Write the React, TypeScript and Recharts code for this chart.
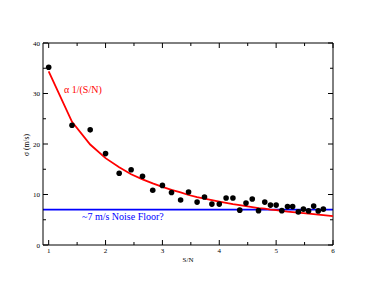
import {
  ComposedChart,
  Scatter,
  XAxis,
  YAxis,
  ReferenceLine,
} from "recharts";

// measured S/N and rms velocity scatter
const snr = [
  1.0, 1.41, 1.73, 2.0, 2.24, 2.45, 2.65, 2.83, 3.0, 3.16, 3.32, 3.46, 3.61, 3.74, 3.87, 4.0, 4.12,
  4.24, 4.36, 4.47, 4.58, 4.69, 4.8, 4.9, 5.0, 5.1, 5.2, 5.29, 5.39, 5.48, 5.57, 5.66, 5.74, 5.83,
];
const sigma = [
  35.2, 23.7, 22.8, 18.1, 14.2, 14.9, 13.6, 10.85, 11.8, 10.4, 8.9, 10.5, 8.5, 9.5, 8.1, 8.1, 9.3,
  9.3, 6.9, 8.3, 9.1, 6.8, 8.5, 7.9, 7.9, 6.8, 7.6, 7.6, 6.55, 7.1, 6.75, 7.7, 6.75, 7.1,
];

// red 1/(S/N) curve
const fitSnr = [...snr, 6.0];
const fitSigma = [
  34.4, 24.4, 19.9, 17.2, 15.4, 14.0, 13.0, 12.2, 11.5, 10.9, 10.4, 9.9, 9.5, 9.2, 8.9, 8.6, 8.35,
  8.1, 7.9, 7.7, 7.5, 7.3, 7.2, 7.0, 6.9, 6.75, 6.6, 6.5, 6.4, 6.3, 6.2, 6.1, 6.0, 5.9, 5.73,
];

const noiseFloor = 7;

const xTicks = [1, 1.5, 2, 2.5, 3, 3.5, 4, 4.5, 5, 5.5, 6];
const yTicks = [0, 5, 10, 15, 20, 25, 30, 35, 40];

const points = snr.map((x, i) => ({ x, y: sigma[i] }));
const fit = fitSnr.map((x, i) => ({ x, y: fitSigma[i] }));

const FONT = '"Liberation Serif", "Times New Roman", serif';

type TickProps = { x: number; y: number; payload: { value: number } };

function BottomTick({ x, y, payload }: TickProps) {
  const major = Number.isInteger(payload.value);
  return (
    <g>
      <line x1={x} y1={y} x2={x} y2={y - (major ? 5 : 3)} stroke="#000" />
      {major && (
        <text x={x} y={y + 8} textAnchor="middle" fontSize={7} fontFamily={FONT} fill="#000">
          {payload.value}
        </text>
      )}
    </g>
  );
}

function TopTick({ x, y, payload }: TickProps) {
  const major = Number.isInteger(payload.value);
  return <line x1={x} y1={y} x2={x} y2={y + (major ? 5 : 3)} stroke="#000" />;
}

function LeftTick({ x, y, payload }: TickProps) {
  const major = payload.value % 10 === 0;
  return (
    <g>
      <line x1={x} y1={y} x2={x + (major ? 5 : 3)} y2={y} stroke="#000" />
      {major && (
        <text x={x - 3} y={y + 2.5} textAnchor="end" fontSize={7} fontFamily={FONT} fill="#000">
          {payload.value}
        </text>
      )}
    </g>
  );
}

function RightTick({ x, y, payload }: TickProps) {
  const major = payload.value % 10 === 0;
  return <line x1={x} y1={y} x2={x - (major ? 5 : 3)} y2={y} stroke="#000" />;
}

export default function App() {
  return (
    <div style={{ position: "absolute", left: 0, top: 0, background: "#fff" }}>
      <ComposedChart width={374} height={289} margin={{ top: 33, right: 31, bottom: 14, left: 13 }}>
        <XAxis
          xAxisId="b"
          dataKey="x"
          type="number"
          domain={[0.9, 6]}
          allowDataOverflow
          ticks={xTicks}
          interval={0}
          height={30}
          tickSize={0}
          tickMargin={0}
          axisLine={{ stroke: "#000" }}
          tick={(p: TickProps) => <BottomTick {...p} />}
        />
        <XAxis
          xAxisId="t"
          orientation="top"
          dataKey="x"
          type="number"
          domain={[0.9, 6]}
          allowDataOverflow
          ticks={xTicks}
          interval={0}
          height={10}
          tickSize={0}
          tickMargin={0}
          axisLine={{ stroke: "#000" }}
          tick={(p: TickProps) => <TopTick {...p} />}
        />
        <YAxis
          yAxisId="l"
          dataKey="y"
          type="number"
          domain={[0, 40]}
          allowDataOverflow
          ticks={yTicks}
          interval={0}
          width={30}
          tickSize={0}
          tickMargin={0}
          axisLine={{ stroke: "#000" }}
          tick={(p: TickProps) => <LeftTick {...p} />}
        />
        <YAxis
          yAxisId="r"
          orientation="right"
          dataKey="y"
          type="number"
          domain={[0, 40]}
          allowDataOverflow
          ticks={yTicks}
          interval={0}
          width={10}
          tickSize={0}
          tickMargin={0}
          axisLine={{ stroke: "#000" }}
          tick={(p: TickProps) => <RightTick {...p} />}
        />
        <ReferenceLine xAxisId="b" yAxisId="l" y={noiseFloor} stroke="#0000ff" strokeWidth={1.6} />
        <Scatter
          xAxisId="b"
          yAxisId="l"
          data={fit}
          line={{ stroke: "#ff0000", strokeWidth: 1.8 }}
          shape={() => <g />}
          isAnimationActive={false}
        />
        <Scatter
          xAxisId="b"
          yAxisId="l"
          data={points}
          shape={(p: any) => <circle cx={p.cx} cy={p.cy} r={2.8} fill="#000" />}
          isAnimationActive={false}
        />
        <text x={64} y={93} fontSize={10} fontFamily={FONT} fill="#ff0000">
          α 1/(S/N)
        </text>
        <text x={82} y={220} fontSize={10} fontFamily={FONT} fill="#0000ff">
          ~7 m/s Noise Floor?
        </text>
        <text x={188} y={262} textAnchor="middle" fontSize={7} fontFamily={FONT} fill="#000">
          S/N
        </text>
        <text
          x={29}
          y={145}
          textAnchor="middle"
          fontSize={7.5}
          fontFamily={FONT}
          fill="#000"
          transform="rotate(-90 29 145)"
        >
          σ (m/s)
        </text>
      </ComposedChart>
    </div>
  );
}
